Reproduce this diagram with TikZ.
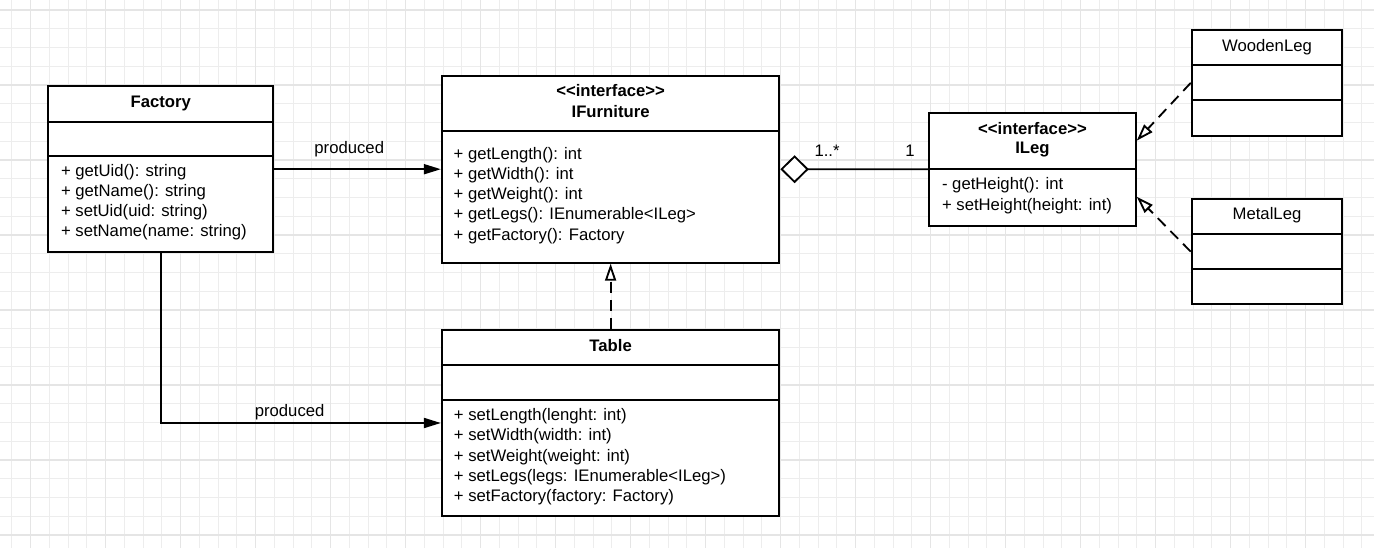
\documentclass[tikz,border=0pt]{standalone}
\usepackage{fontspec}
\setmainfont{Liberation Sans}
\usetikzlibrary{positioning, arrows.meta, calc}

\begin{document}
\begin{tikzpicture}[x=0.02cm, y=-0.02cm,
  umlbox/.style={draw, line width=1.15pt, fill=white, inner sep=0pt},
  divider/.style={line width=1.05pt},
  txt/.style={font=\fontsize{9.5}{11.5}\selectfont, inner sep=0pt},
  ttl/.style={txt, font=\fontsize{9.5}{11.5}\selectfont\bfseries},
  meth/.style={txt, anchor=west},
  assoc/.style={line width=1.05pt, -{Triangle[length=0.34cm, width=0.2cm]}},
  realize/.style={line width=1.05pt, dash pattern=on 0.22cm off 0.14cm,
    -{Triangle[fill=white, length=0.34cm, width=0.22cm]}},
  aggr/.style={line width=1.05pt, -{Diamond[fill=white, length=0.57cm, width=0.56cm]}},
  gridminor/.style={line width=0.6pt, draw=black!7},
  gridmajor/.style={line width=0.6pt, draw=black!10}]
\useasboundingbox (0,0) rectangle (1374,548);

% draw grid
\foreach \k in {0,...,72}
\draw[gridminor] (11.95+18.75*\k,0) -- (11.95+18.75*\k,548);
\foreach \k in {0,...,28}
\draw[gridminor] (0,10+18.75*\k) -- (1374,10+18.75*\k);
\foreach \k in {0,...,17}
\draw[gridmajor] (30.7+75*\k,0) -- (30.7+75*\k,548);
\foreach \k in {0,...,7}
\draw[gridmajor] (0,10+75*\k) -- (1374,10+75*\k);

% draw classes
\node[umlbox, minimum width=4.5cm, minimum height=3.33cm] (factory) at (160.8,169.2) {};
\node[umlbox, minimum width=6.75cm, minimum height=3.74cm] (ifurn) at (610.6,169.2) {};
\node[umlbox, minimum width=6.75cm, minimum height=3.72cm] (table) at (610.6,423) {};
\node[umlbox, minimum width=4.13cm, minimum height=2.25cm] (ileg) at (1032.5,169.3) {};
\node[umlbox, minimum width=3.01cm, minimum height=2.11cm] (wood) at (1267,82.85) {};
\node[umlbox, minimum width=3.01cm, minimum height=2.11cm] (metal) at (1267,251.65) {};

% draw compartment lines
\foreach \nm/\yy in {factory/121.7, factory/156.4, ifurn/131, ileg/169,
  wood/65, wood/100.3, metal/234, metal/269, table/365, table/400}
\draw[divider] (\nm.west |- 0,\yy) -- (\nm.east |- 0,\yy);

% class names
\node[ttl] (factoryname) at (160.8,103) {Factory};
\node[ttl] (ifurnst) at (610.6,91) {<\kern0pt<interface>\kern0pt>};
\node[ttl] (ifurnname) at (610.6,111.7) {IFurniture};
\node[ttl] (tablename) at (610.6,346) {Table};
\node[ttl] (ilegst) at (1032.5,128.7) {<\kern0pt<interface>\kern0pt>};
\node[ttl] (ilegname) at (1032.5,150) {ILeg};
\node[txt] (woodname) at (1267,47) {WoodenLeg};
\node[txt] (metalname) at (1267,215) {MetalLeg};

% methods
\foreach \i/\descr in {0/{+ getUid(): string}, 1/{+ getName(): string},
  2/{+ setUid(uid: string)}, 3/{+ setName(name: string)}}
\node[meth] (factorym\i) at (60.7,172.3+20*\i) {\descr};

\foreach \i/\descr in {0/{+ getLength(): int}, 1/{+ getWidth(): int},
  2/{+ getWeight(): int}, 3/{+ getLegs(): IEnumerable<ILeg>},
  4/{+ getFactory(): Factory}}
\node[meth] (ifurnm\i) at (453.3,155+20.2*\i) {\descr};

\foreach \i/\descr in {0/{+ setLength(lenght: int)}, 1/{+ setWidth(width: int)},
  2/{+ setWeight(weight: int)}, 3/{+ setLegs(legs: IEnumerable<ILeg>)},
  4/{+ setFactory(factory: Factory)}}
\node[meth] (tablem\i) at (453.6,416+20.4*\i) {\descr};

\foreach \i/\descr in {0/{- getHeight(): int}, 1/{+ setHeight(height: int)}}
\node[meth] (ilegm\i) at (941.7,185+20.7*\i) {\descr};

% associations
\draw[assoc] (factory.east) -- (ifurn.west)
  node[txt, pos=0.45, above=6.5pt] (prodtop) {produced};
\draw[assoc] (factory.south) |- (table.west)
  node[txt, pos=0.73, above=1pt] (prodbottom) {produced};

% realizations
\coordinate (ilegtop) at ($(ileg.north east)!0.25!(ileg.south east)$);
\coordinate (ilegbot) at ($(ileg.north east)!0.74!(ileg.south east)$);
\draw[realize] (table.north) -- (ifurn.south);
\draw[realize] (wood.west) -- (ilegtop);
\draw[realize] (metal.west) -- (ilegbot);

% aggregation
\draw[aggr] (ileg.west) -- (ifurn.east)
  node[txt, pos=0.124, above=6.5pt] (multone) {1}
  node[txt, pos=0.684, above=6.5pt] (multmany) {1..*};
\end{tikzpicture}
\end{document}
